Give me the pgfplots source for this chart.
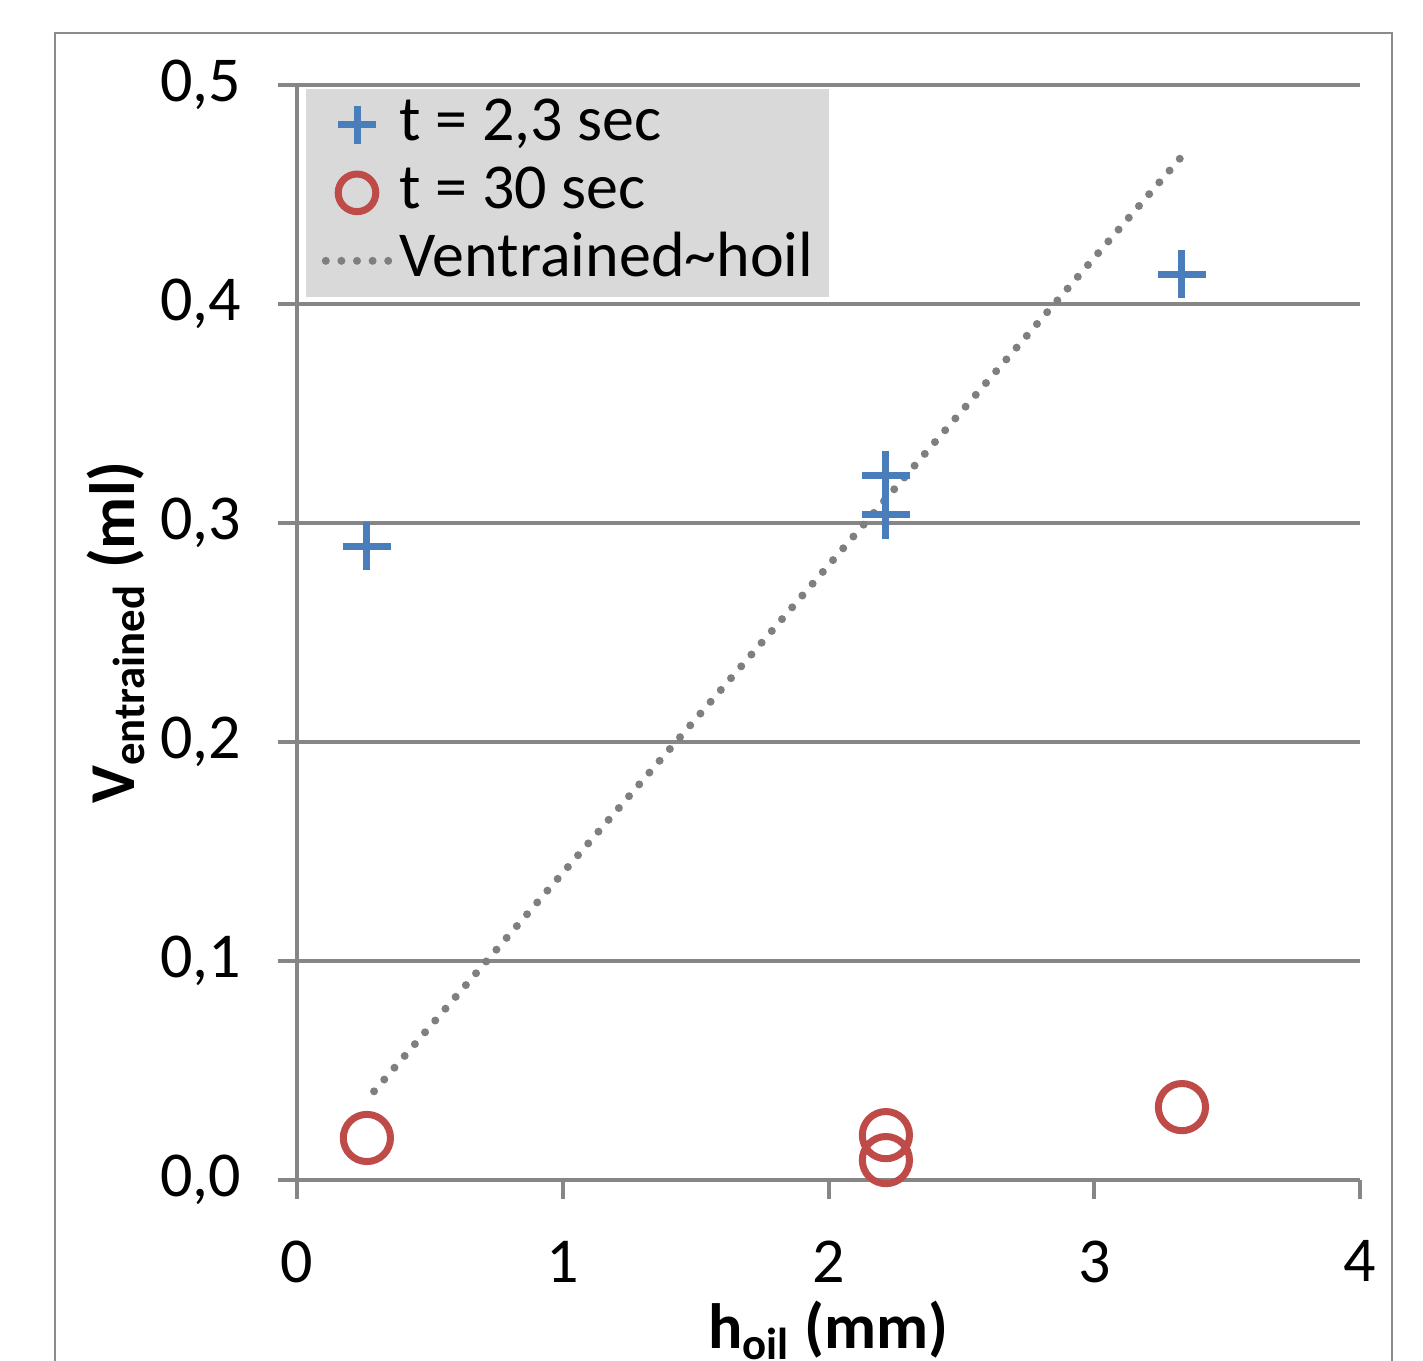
\documentclass[border=0pt]{standalone}
\usepackage{fontspec}
\setmainfont{Carlito}
\usepackage{pgfplots}
\pgfplotsset{compat=1.18}
\definecolor{axgray}{HTML}{868686}
\definecolor{framegray}{HTML}{8C8C8C}
\definecolor{legfill}{HTML}{D9D9D9}
\definecolor{xblue}{HTML}{4A7EBB}
\definecolor{xred}{HTML}{BE4B48}
\definecolor{trendgray}{HTML}{7F7F7F}
\pgfplotsset{
  mylegimg/.style={legend image code/.code={%
    \draw[mark repeat=2,mark phase=2,##1] plot coordinates {(0pt,0pt) (7.8pt,0pt) (17pt,0pt)};}},
}
\begin{document}
\begin{tikzpicture}
\useasboundingbox (0,0) rectangle (355.75pt,-340pt);
\clip (0,0) rectangle (355.75pt,-340pt);
\draw[framegray, line width=0.5pt] (13.75pt,-8.25pt) rectangle (348pt,-380pt);
\begin{axis}[
  at={(74.25pt,-295pt)}, anchor=south west,
  scale only axis, width=265.75pt, height=273.75pt,
  xmin=0, xmax=4, ymin=0, ymax=0.5,
  xtick={0,1,2,3,4}, ytick={0,0.1,0.2,0.3,0.4,0.5},
  axis lines*=left,
  axis line style={axgray, line width=1pt},
  ymajorgrids, grid style={axgray, line width=1pt},
  tick align=outside, major tick length=4.75pt,
  tick style={axgray, line width=1pt},
  ticklabel style={font=\fontsize{16}{19}\selectfont, inner sep=0pt},
  xticklabel style={yshift=-10.25pt},
  /pgf/number format/assume math mode=true,
  yticklabel style={xshift=-9pt, /pgf/number format/.cd, fixed, fixed zerofill, precision=1, use comma},
  xlabel={\textbf{h\textsubscript{oil} (mm)}},
  ylabel={\textbf{V\textsubscript{entrained} (ml)}},
  label style={font=\fontsize{16}{19}\selectfont},
  xlabel style={at={(axis description cs:0.5,-0.1543)}, anchor=base},
  ylabel style={at={(axis description cs:-0.1703,0.5)}, anchor=center},
  clip=false,
  legend cell align=left,
  legend style={at={(rel axis cs:0,1)}, anchor=north west, xshift=2pt, yshift=-0.75pt,
    fill=legfill, draw=none, inner xsep=4pt, inner ysep=1pt, row sep=1pt, column sep=0.5pt,
    font=\fontsize{16}{19}\selectfont,
    nodes={inner sep=0pt, text height=12pt, text depth=4pt}},
  legend image post style={mark size=4.7pt},
]
\addplot[mylegimg, only marks, mark=+, mark size=6pt, color=xblue, line width=1.75pt]
  coordinates {(0.263,0.2895) (2.216,0.3219) (2.216,0.3037) (3.33,0.4137)};
\addlegendentry{t = 2,3 sec}
\addplot[mylegimg, only marks, mark=o, mark size=5.9pt, color=xred, line width=1.75pt]
  coordinates {(0.263,0.0192) (2.216,0.0205) (2.216,0.0091) (3.33,0.0333)};
\addlegendentry{t = 30 sec}
\addplot[mylegimg, trendgray, line width=2pt, line cap=round, dash pattern=on 0pt off 3.9pt]
  coordinates {(0.29,0.0405) (3.33,0.4675)};
\addlegendentry{Ventrained\textasciitilde hoil}
\end{axis}
\end{tikzpicture}
\end{document}
